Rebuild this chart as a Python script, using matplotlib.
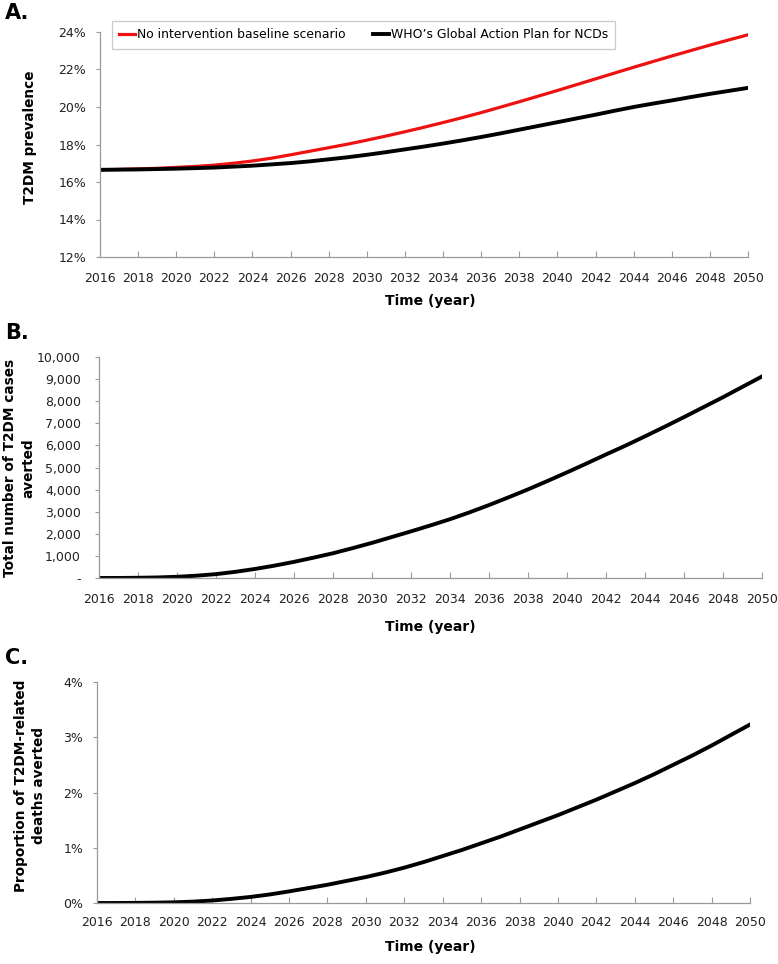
import matplotlib.pyplot as plt
from matplotlib.ticker import FuncFormatter

# Data (one point per year)
years = list(range(2016, 2051))

# Panel A: T2DM prevalence (%)
baseline = [16.65, 16.67, 16.70, 16.73, 16.78, 16.83, 16.90, 17.00, 17.12, 17.27,
            17.45, 17.64, 17.83, 18.02, 18.23, 18.45, 18.68, 18.92, 19.17, 19.43,
            19.70, 19.99, 20.28, 20.58, 20.88, 21.19, 21.50, 21.81, 22.12, 22.42,
            22.72, 23.01, 23.30, 23.58, 23.85]
who_plan = [16.65, 16.66, 16.67, 16.69, 16.71, 16.74, 16.77, 16.82, 16.87, 16.94,
            17.01, 17.10, 17.21, 17.32, 17.45, 17.59, 17.74, 17.89, 18.05, 18.22,
            18.40, 18.59, 18.79, 18.99, 19.19, 19.39, 19.59, 19.80, 20.00, 20.18,
            20.35, 20.53, 20.70, 20.86, 21.02]

# Panel B: cumulative T2DM cases averted
cases_averted = [0, 2, 10, 25, 55, 105, 175, 280, 410, 560,
                 730, 920, 1120, 1350, 1590, 1850, 2110, 2380, 2660, 2970,
                 3300, 3650, 4010, 4390, 4780, 5180, 5590, 5990, 6410, 6840,
                 7280, 7730, 8180, 8650, 9120]

# Panel C: proportion of T2DM-related deaths averted (%)
deaths_averted = [0, 0, 0.002, 0.006, 0.012, 0.025, 0.045, 0.075, 0.11, 0.155,
                  0.21, 0.27, 0.33, 0.40, 0.47, 0.55, 0.64, 0.74, 0.85, 0.96,
                  1.08, 1.20, 1.33, 1.46, 1.59, 1.73, 1.87, 2.02, 2.17, 2.33,
                  2.50, 2.67, 2.85, 3.04, 3.23]

W, H = 778, 964
fig = plt.figure(figsize=(W / 100, H / 100), dpi=100)


def make_axes(left, right, top, bottom):
    return fig.add_axes([left / W, 1 - bottom / H, (right - left) / W, (bottom - top) / H])


def style_axes(ax):
    for s in ['top', 'right']:
        ax.spines[s].set_visible(False)
    for s in ['left', 'bottom']:
        ax.spines[s].set_color('#9a9a9a')
        ax.spines[s].set_linewidth(0.9)
    ax.set_xlim(2016, 2050)
    ax.set_xticks(range(2016, 2051, 2))
    ax.tick_params(axis='x', direction='in', length=4, color='#9a9a9a',
                   labelsize=9, pad=11, labelcolor='#222222')
    ax.tick_params(axis='y', direction='out', length=3, color='#9a9a9a',
                   labelsize=9, pad=7, labelcolor='#222222')


# Panel A
ax1 = make_axes(100, 748, 32, 257)
style_axes(ax1)
ax1.plot(years, baseline, color='#ee1111', lw=2.3, label='No intervention baseline scenario')
ax1.plot(years, who_plan, color='black', lw=2.8, label='WHO\u2019s Global Action Plan for NCDs')
ax1.set_ylim(12, 24)
ax1.set_yticks(range(12, 25, 2))
ax1.yaxis.set_major_formatter(FuncFormatter(lambda v, p: '%d%%' % v))
leg = ax1.legend(loc='upper left', bbox_to_anchor=(0.018, 1.049), ncol=2, fontsize=8.9,
                 frameon=True, fancybox=False, handlelength=1.3, handletextpad=0.15,
                 columnspacing=2.2, borderpad=0.6, borderaxespad=0)
leg.get_frame().set_edgecolor('#bdbdbd')
leg.get_frame().set_linewidth(0.9)

# Panel B
ax2 = make_axes(99, 762, 357, 578)
style_axes(ax2)
ax2.plot(years, cases_averted, color='black', lw=2.8)
ax2.set_ylim(0, 10000)
ax2.set_yticks(range(0, 10001, 1000))
ax2.yaxis.set_major_formatter(FuncFormatter(lambda v, p: '-' if v == 0 else '{:,.0f}'.format(v)))
ax2.tick_params(axis='y', pad=10)

# Panel C
ax3 = make_axes(97, 750, 682, 903)
style_axes(ax3)
ax3.plot(years, deaths_averted, color='black', lw=2.8)
ax3.set_ylim(0, 4)
ax3.set_yticks(range(0, 5))
ax3.yaxis.set_major_formatter(FuncFormatter(lambda v, p: '%d%%' % v))
ax3.tick_params(axis='x', pad=9)

# Axis titles placed in figure pixels
ylabels = [('T2DM prevalence', 30, 137),
           ('Total number of T2DM cases\naverted', 19, 468),
           ('Proportion of T2DM-related\ndeaths averted', 30, 786)]
for txt, xp, yp in ylabels:
    fig.text(xp / W, 1 - yp / H, txt, rotation=90, ha='center', va='center',
             fontsize=9.8, fontweight='bold', linespacing=1.35, multialignment='center')

for yp in [301, 627, 947]:
    fig.text(430 / W, 1 - yp / H, 'Time (year)', ha='center', va='center',
             fontsize=10, fontweight='bold')

# Panel letters
for label, yp in [('A.', 13), ('B.', 333), ('C.', 658)]:
    fig.text(5 / W, 1 - yp / H, label, fontsize=15, fontweight='bold', va='center', ha='left')

plt.savefig('out.png', dpi=100)
